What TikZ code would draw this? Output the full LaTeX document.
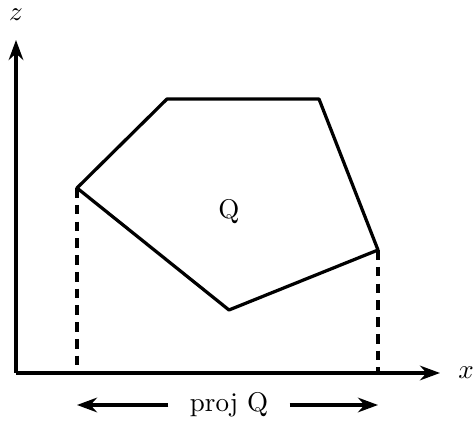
\documentclass[tikz,border=0pt]{standalone}
\usetikzlibrary{arrows.meta}

\begin{document}
\begin{tikzpicture}[x=0.013cm,y=0.013cm,line width=1.2pt,
  axis/.style={-{Stealth[length=2.6mm,width=1.9mm]}},
  projarrow/.style={-{Stealth[length=2.6mm,width=1.9mm]}},
  dropline/.style={dash pattern=on 3.6pt off 2.6pt}]
  \useasboundingbox (0,0) rectangle (476,421);
  % axes
  \coordinate (o) at (16,48);
  \coordinate (ztop) at (16,381);
  \coordinate (xend) at (440,48);
  \draw[axis] (o)--(ztop);
  \draw[axis] (o)--(xend);
  \node (zlab) at (16,406) {$z$};
  \node (xlab) at (466,48) {$x$};
  % polygon Q
  \coordinate (p1) at (77,233);
  \coordinate (p2) at (167,322);
  \coordinate (p3) at (319,322);
  \coordinate (p4) at (378,171);
  \coordinate (p5) at (229,111);
  \draw[line join=round] (p1)--(p2)--(p3)--(p4)--(p5)--cycle;
  \node (qlab) at (229,209) {Q};
  % projection
  \coordinate (d1) at (77,48);
  \coordinate (d2) at (378,48);
  \draw[dropline] (p1)--(d1);
  \draw[dropline] (p4)--(d2);
  \node (proj) at (229,16) {proj Q};
  \coordinate (pl) at (77,16);
  \coordinate (pr) at (378,16);
  \draw[projarrow] ([xshift=-4pt]proj.west)--(pl);
  \draw[projarrow] ([xshift=4pt]proj.east)--(pr);
\end{tikzpicture}
\end{document}
